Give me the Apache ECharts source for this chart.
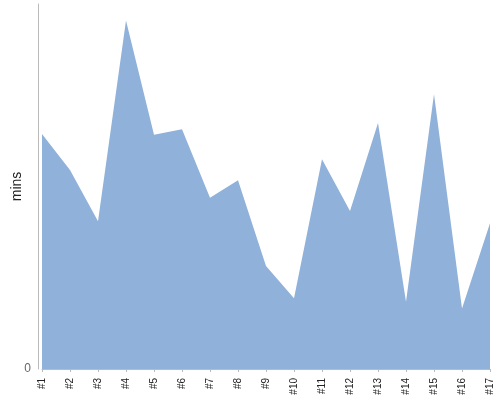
<!DOCTYPE html>
<html>
<head>
<meta charset="utf-8">
<script src="https://cdn.jsdelivr.net/npm/echarts@6/dist/echarts.min.js"></script>
<style>html,body{margin:0;padding:0;background:#fff}#c{width:500px;height:400px}</style>
</head>
<body>
<div id="c"></div>
<script>
var categories = ['#1','#2','#3','#4','#5','#6','#7','#8','#9','#10','#11','#12','#13','#14','#15','#16','#17'];
var minsValues = [64.4, 54.5, 40.5, 95.5, 64.2, 65.7, 46.9, 51.7, 28.2, 19.4, 57.5, 43.3, 67.4, 18.4, 75.3, 16.6, 39.9];
var yTickLabels = ['0'];

var chart = echarts.init(document.getElementById('c'), null, {renderer: 'canvas'});
chart.setOption({
  animation: false,
  grid: {left: 42, right: 10, top: 4, bottom: 31, containLabel: false, outerBoundsMode: 'none'},
  xAxis: {
    type: 'category',
    data: categories,
    boundaryGap: false,
    offset: 5,
    axisLine: {lineStyle: {color: '#bbbbbb', width: 1}},
    axisTick: {show: true, length: 3, alignWithLabel: true, lineStyle: {color: '#bbbbbb'}},
    axisLabel: {rotate: 90, fontSize: 10, color: '#222', fontFamily: 'Liberation Sans, Arial, sans-serif', margin: 4, interval: 0},
    splitLine: {show: false}
  },
  yAxis: {
    type: 'value',
    min: 0,
    max: 100,
    interval: 100,
    offset: 4,
    name: 'mins',
    nameLocation: 'middle',
    nameGap: 14,
    nameMoveOverlap: false,
    nameTextStyle: {fontSize: 14, color: '#222', fontFamily: 'Liberation Sans, Arial, sans-serif'},
    axisLine: {show: true, lineStyle: {color: '#bbbbbb', width: 1}},
    axisTick: {show: false},
    axisLabel: {
      fontSize: 12, color: '#666', fontFamily: 'Liberation Sans, Arial, sans-serif', margin: 7,
      formatter: function (v) { return v === 0 ? yTickLabels[0] : ''; }
    },
    splitLine: {show: false}
  },
  series: [{
    type: 'line',
    data: minsValues,
    symbol: 'none',
    lineStyle: {width: 0},
    areaStyle: {color: '#8fb1da', opacity: 1}
  }]
});
</script>
</body>
</html>
